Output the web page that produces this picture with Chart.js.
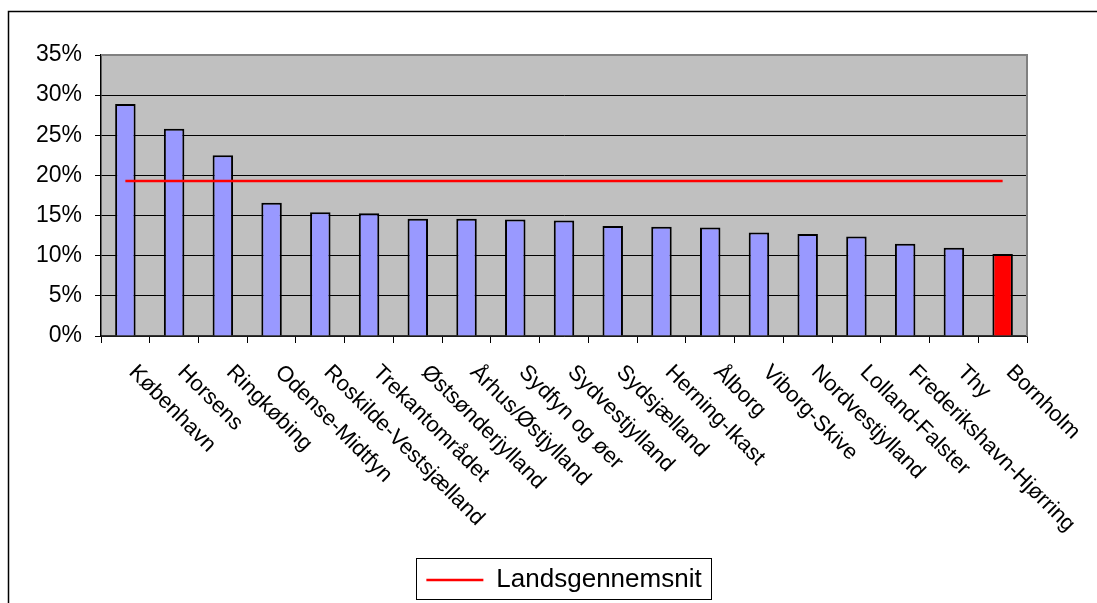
<!DOCTYPE html>
<html>
<head>
<meta charset="utf-8">
<script src="https://cdn.jsdelivr.net/npm/chart.js@4"></script>
<style>
  body { margin: 0; background: #fff; }
</style>
</head>
<body>
<canvas id="myChart" width="1097" height="603"></canvas>
<script>
// regioner
var regions = ["København", "Horsens", "Ringkøbing", "Odense-Midtfyn", "Roskilde-Vestsjælland",
  "Trekantområdet", "Østsønderjylland", "Århus/Østjylland", "Sydfyn og øer", "Sydvestjylland",
  "Sydsjælland", "Herning-Ikast", "Ålborg", "Viborg-Skive", "Nordvestjylland",
  "Lolland-Falster", "Frederikshavn-Hjørring", "Thy", "Bornholm"];
// andel i procent
var shares = [28.9, 25.8, 22.5, 16.6, 15.4, 15.3, 14.6, 14.6, 14.5, 14.4,
  13.7, 13.6, 13.5, 12.9, 12.7, 12.4, 11.5, 11.0, 10.2];
var nationalAvg = 19.3;
var yTicks = [0, 5, 10, 15, 20, 25, 30, 35];

var avgLine = regions.map(function() { return nationalAvg; });
var barColors = regions.map(function(r, i) { return i === regions.length - 1 ? '#FF0000' : '#9999FF'; });

var frame = {
  id: 'frame',
  afterUpdate: function(chart) {
    // center legend under the plot area instead of the whole canvas
    var lg = chart.legend, a = chart.chartArea;
    var shift = (a.left + a.right) / 2 - (lg.left + lg.right) / 2;
    lg.left += shift;
    lg.right += shift;
  },
  beforeDraw: function(chart) {
    var ctx = chart.ctx, a = chart.chartArea;
    ctx.save();
    ctx.fillStyle = '#fff';
    ctx.fillRect(0, 0, chart.width, chart.height);
    ctx.strokeStyle = '#000';
    ctx.lineWidth = 1.5;
    ctx.strokeRect(8.5, 11.5, chart.width + 20, chart.height + 20);
    ctx.fillStyle = '#C0C0C0';
    ctx.fillRect(a.left, a.top, a.right - a.left, a.bottom - a.top);
    ctx.restore();
  },
  afterDraw: function(chart) {
    var ctx = chart.ctx, a = chart.chartArea;
    ctx.save();
    // gray top/right edge of plot
    ctx.strokeStyle = '#808080';
    ctx.lineWidth = 2;
    ctx.beginPath();
    ctx.moveTo(a.left, a.top);
    ctx.lineTo(a.right, a.top);
    ctx.lineTo(a.right, a.bottom);
    ctx.stroke();
    // rotated category labels
    var xs = chart.scales.x;
    ctx.fillStyle = '#000';
    ctx.font = '22px "Liberation Sans", Arial, sans-serif';
    ctx.textAlign = 'left';
    ctx.textBaseline = 'middle';
    regions.forEach(function(r, i) {
      ctx.save();
      ctx.translate(xs.getPixelForValue(i) + 7, a.bottom + 33);
      ctx.rotate(Math.PI / 4);
      ctx.fillText(r, 0, 0);
      ctx.restore();
    });
    // box round legend
    var lg = chart.legend;
    var cx = Math.round((lg.left + lg.right) / 2);
    ctx.strokeStyle = '#000';
    ctx.lineWidth = 1;
    ctx.strokeRect(cx - 147.5, Math.round(lg.top) + 1.5, 295, 41);
    ctx.restore();
  }
};

var ctx = document.getElementById('myChart').getContext('2d');
var myChart = new Chart(ctx, {
  type: 'bar',
  data: {
    labels: regions,
    datasets: [{
      type: 'line',
      label: 'Landsgennemsnit',
      data: avgLine,
      borderColor: '#FF0000',
      backgroundColor: '#FF0000',
      borderWidth: 2.5,
      pointRadius: 0,
      order: 0
    },
    {
      label: 'Andel',
      data: shares,
      backgroundColor: barColors,
      borderColor: '#000',
      borderWidth: 2,
      categoryPercentage: 1,
      barPercentage: 0.42,
      order: 1
    }]
  },
  options: {
    responsive: false,
    animation: false,
    layout: { padding: { left: 8, top: 55, right: 70, bottom: 0 } },
    plugins: {
      tooltip: { enabled: false },
      legend: {
        position: 'bottom',
        labels: {
          filter: function(item) { return item.datasetIndex === 0; },
          usePointStyle: true,
          pointStyle: 'line',
          pointStyleWidth: 57,
          color: '#000',
          padding: 10,
          font: { size: 26, family: '"Liberation Sans", Arial, sans-serif' }
        }
      }
    },
    scales: {
      x: {
        afterFit: function(s) { s.height = 221; },
        border: { color: '#333', width: 1.5 },
        grid: { drawOnChartArea: false, drawTicks: true, tickLength: 7, color: '#000', offset: true },
        ticks: { display: false }
      },
      y: {
        min: 0,
        max: 35,
        afterFit: function(s) { s.width = 93; },
        afterBuildTicks: function(s) { s.ticks = yTicks.map(function(v) { return { value: v }; }); },
        border: { color: '#000', width: 1.5 },
        grid: { color: '#000', lineWidth: 1, tickLength: 6 },
        ticks: {
          color: '#000',
          padding: 13,
          font: { size: 23, family: '"Liberation Sans", Arial, sans-serif' },
          callback: function(v) { return v + '%'; }
        }
      }
    }
  },
  plugins: [frame]
});
</script>
</body>
</html>
